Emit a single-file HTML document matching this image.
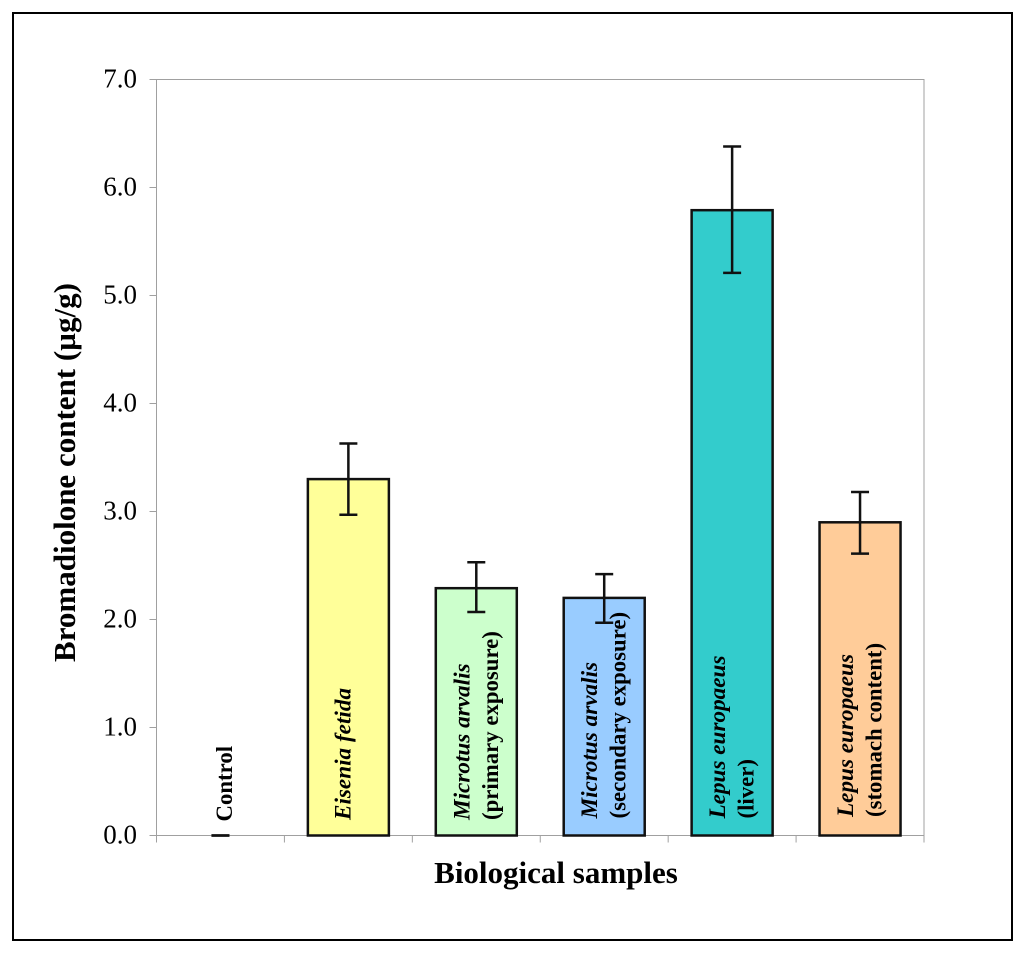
<!DOCTYPE html>
<html lang="en">
<head>
<meta charset="utf-8">
<title>Bromadiolone content in biological samples</title>
<style>
html,body{margin:0;padding:0;background:#fff;}
svg{display:block;font-family:"Liberation Serif",serif;}
</style>
</head>
<body>
<svg id="chart" width="1024" height="953" viewBox="0 0 1024 953" xmlns="http://www.w3.org/2000/svg">
<rect x="13" y="13" width="999" height="927" fill="#fff" stroke="#000" stroke-width="2"/>
<text transform="translate(75,472.5) rotate(-90)" text-anchor="middle" font-size="31" font-weight="bold" fill="#000">Bromadiolone content (µg/g)</text>
<text x="556" y="883" text-anchor="middle" font-size="31" font-weight="bold" fill="#000">Biological samples</text>
</svg>
<script>
const categories = ['Control', 'Eisenia fetida', 'Microtus arvalis (primary exposure)', 'Microtus arvalis (secondary exposure)', 'Lepus europaeus (liver)', 'Lepus europaeus (stomach content)'];
const labelItalic = ['', 'Eisenia fetida', 'Microtus arvalis', 'Microtus arvalis', 'Lepus europaeus', 'Lepus europaeus'];
const labelPlain = ['Control', '', '(primary exposure)', '(secondary exposure)', '(liver)', '(stomach content)'];
const values = [0, 3.3, 2.29, 2.2, 5.79, 2.9];
const errorHigh = [0, 3.63, 2.53, 2.42, 6.38, 3.18];
const errorLow = [0, 2.97, 2.07, 1.97, 5.21, 2.61];
const barColors = ['#ffffff', '#ffff99', '#ccffcc', '#99ccff', '#33cccc', '#ffcc99'];
const yTickLabels = ['0.0', '1.0', '2.0', '3.0', '4.0', '5.0', '6.0', '7.0'];

const svg = document.getElementById('chart');
const NS = 'http://www.w3.org/2000/svg';
const plotLeft = 156.5, plotRight = 924, plotTop = 79.5, plotBottom = 835.5, yMax = 7;
const bandWidth = (plotRight - plotLeft) / categories.length;
const barWidth = 81;
const yScale = v => plotBottom - (v / yMax) * (plotBottom - plotTop);
const xCenter = i => plotLeft + (i + 0.5) * bandWidth;
const xEdge = i => plotLeft + i * bandWidth;
const labelStart = i => 820 + (i === 0 ? 1.5 : i === 3 || i === 4 ? -1.5 : i === 5 ? -3 : 0);

function add(tag, attrs, text) {
  const el = document.createElementNS(NS, tag);
  for (const k in attrs) el.setAttribute(k, attrs[k]);
  if (text !== undefined) el.textContent = text;
  svg.appendChild(el);
  return el;
}
const axisColor = '#a0a0a0';
const markColor = '#111';

let el = add('rect', {x: plotLeft, y: plotTop, width: plotRight - plotLeft, height: plotBottom - plotTop, fill: 'none', stroke: axisColor, 'stroke-width': 1});



yTickLabels.forEach((label) => {
  const y = yScale(parseFloat(label));
  const tick = add('line', {x1: plotLeft - 7, x2: plotLeft, y1: y, y2: y, stroke: axisColor, 'stroke-width': 1});
  
  
  const t = add('text', {x: 137, y: y + 8, 'text-anchor': 'end', 'font-size': 27, fill: '#000'}, label);
  
  
});

for (let i = 0; i <= categories.length; i++) {
  const x = xEdge(i);
  const tick = add('line', {x1: x, x2: x, y1: plotBottom, y2: plotBottom + 7, stroke: axisColor, 'stroke-width': 1});
  
  
}

categories.forEach((cat, i) => {
  const cx = xCenter(i);
  if (values[i] > 0) {
    const bar = add('rect', {x: cx - barWidth / 2, y: yScale(values[i]), width: barWidth, height: plotBottom - yScale(values[i]), fill: barColors[i], stroke: markColor, 'stroke-width': 2.5});
    
    
  }
  const stem = add('line', {x1: cx, x2: cx, y1: yScale(errorHigh[i]), y2: yScale(errorLow[i]), stroke: markColor, 'stroke-width': 2.5});
  
  
  [errorHigh[i], errorLow[i]].forEach(v => {
    const cap = add('line', {x1: cx - 9, x2: cx + 9, y1: yScale(v), y2: yScale(v), stroke: markColor, 'stroke-width': 2.5});
    
    
  });
  const twoLines = labelItalic[i] && labelPlain[i];
  if (labelItalic[i]) {
    const lx = twoLines ? cx - 7 : cx + 2;
    const t = add('text', {transform: 'translate(' + lx + ',' + labelStart(i) + ') rotate(-90)', 'font-size': 23.2, 'font-weight': 'bold', 'font-style': 'italic', fill: '#000'}, labelItalic[i]);
    
    
  }
  if (labelPlain[i]) {
    const lx = twoLines ? cx + 21.5 : cx + 11.5;
    const t = add('text', {transform: 'translate(' + lx + ',' + labelStart(i) + ') rotate(-90)', 'font-size': 22.8, 'font-weight': 'bold', fill: '#000'}, labelPlain[i]);
    
    
  }
});
</script>
</body>
</html>
